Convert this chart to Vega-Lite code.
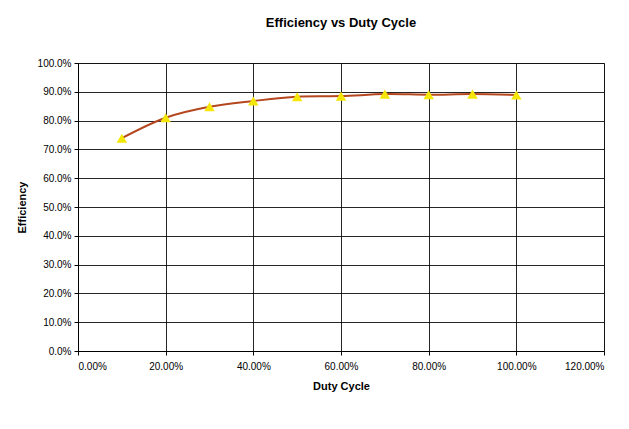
{
  "$schema": "https://vega.github.io/schema/vega-lite/v6.json",
  "width": 526,
  "height": 288,
  "autosize": {"type": "none"},
  "padding": {"left": 78, "top": 63, "right": 25, "bottom": 78},
  "background": "white",
  "title": {
    "text": "Efficiency vs Duty Cycle",
    "font": "Liberation Sans",
    "fontSize": 13,
    "fontWeight": "bold",
    "color": "#000000",
    "offset": 28,
    "anchor": "middle"
  },
  "config": {
    "view": {"stroke": "#808080", "strokeWidth": 1},
    "axis": {
      "labelFont": "Liberation Sans",
      "labelFontSize": 10,
      "labelColor": "#000000",
      "titleFont": "Liberation Sans",
      "titleFontSize": 11,
      "titleFontWeight": "bold",
      "titleColor": "#000000",
      "gridColor": "#000000",
      "gridOpacity": 0.85,
      "gridWidth": 1,
      "domainColor": "#000000",
      "tickColor": "#000000",
      "tickSize": 4
    }
  },
  "data": {
    "values": [
      {"duty": 0.1, "eff": 0.739},
      {"duty": 0.2, "eff": 0.81},
      {"duty": 0.3, "eff": 0.848},
      {"duty": 0.4, "eff": 0.868},
      {"duty": 0.5, "eff": 0.883},
      {"duty": 0.6, "eff": 0.885},
      {"duty": 0.7, "eff": 0.892},
      {"duty": 0.8, "eff": 0.89},
      {"duty": 0.9, "eff": 0.892},
      {"duty": 1.0, "eff": 0.889}
    ]
  },
  "encoding": {
    "x": {
      "field": "duty",
      "type": "quantitative",
      "scale": {"domain": [0, 1.2], "nice": false},
      "axis": {"format": ".2%", "values": [0, 0.2, 0.4, 0.6, 0.8, 1.0, 1.2], "title": "Duty Cycle", "titlePadding": 9, "labelPadding": 6}
    },
    "y": {
      "field": "eff",
      "type": "quantitative",
      "scale": {"domain": [0, 1], "nice": false},
      "axis": {"format": ".1%", "values": [0, 0.1, 0.2, 0.3, 0.4, 0.5, 0.6, 0.7, 0.8, 0.9, 1.0], "title": "Efficiency", "titlePadding": 10, "labelPadding": 3}
    }
  },
  "layer": [
    {
      "mark": {"type": "line", "interpolate": "catmull-rom", "color": "#B5471F", "strokeWidth": 2}
    },
    {
      "mark": {"type": "point", "shape": "triangle-up", "filled": true, "color": "#F5E60A", "size": 110, "opacity": 1}
    }
  ]
}
